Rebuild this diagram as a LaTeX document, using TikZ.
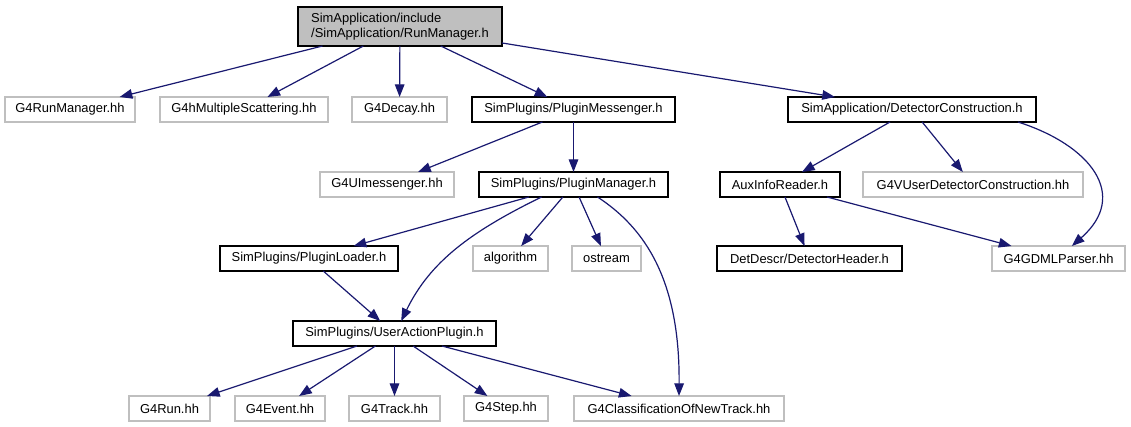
\documentclass[tikz,border=0pt]{standalone}
\usepackage{fontspec}
\setmainfont{Liberation Sans}
\usepackage{tikz}
\usetikzlibrary{arrows.meta,positioning}
\definecolor{extline}{RGB}{191,191,191}
\definecolor{rootbg}{RGB}{191,191,191}
\definecolor{edgeline}{RGB}{25,25,112}
\tikzset{
  extbox/.style={
    draw=extline,
    line width=0.8pt,
    fill=white,
    outer sep=0pt,
    minimum height=18.75pt,
    inner sep=2pt,
    font=\fontsize{9.7}{11.3}\selectfont
  },
  hdrbox/.style={
    extbox,
    draw=black,
    line width=0.85pt
  },
  rootbox/.style={
    hdrbox,
    fill=rootbg,
    align=left,
    minimum height=29.25pt
  },
  arrow/.style={-{Triangle[length=9.5pt,width=7.2pt]}, draw=edgeline, color=edgeline, line width=0.9pt}
}

\begin{document}
\begin{tikzpicture}[x=0.75pt,y=-0.75pt,node distance=18.75pt]
  \useasboundingbox (0,0) rectangle (1131,427);

  \node[rootbox, minimum width=153pt] (root) at (400,26.5) {SimApplication/include\\/SimApplication/RunManager.h};

  % first level
  \node[extbox, minimum width=97.5pt, anchor=west] (runmgr) at (5,109.5) {G4RunManager.hh};
  \node[extbox, minimum width=126pt, right=of runmgr] (multscat) {G4hMultipleScattering.hh};
  \node[extbox, minimum width=71.25pt, right=18pt of multscat] (decay) {G4Decay.hh};
  \node[hdrbox, minimum width=152.25pt, right=of decay] (pmsg) {SimPlugins/PluginMessenger.h};
  \node[hdrbox, minimum width=186pt, right=84.75pt of pmsg] (detcon) {SimApplication/DetectorConstruction.h};

  % second level
  \node[extbox, minimum width=100.5pt, anchor=west] (uimsg) at (320,184.5) {G4UImessenger.hh};
  \node[hdrbox, minimum width=141.75pt, right=of uimsg] (pmgr) {SimPlugins/PluginManager.h};
  \node[hdrbox, minimum width=90pt, right=39pt of pmgr] (auxinfo) {AuxInfoReader.h};
  \node[extbox, minimum width=165pt, right=17.25pt of auxinfo] (vuserdet) {G4VUserDetectorConstruction.hh};

  % third level
  \node[hdrbox, minimum width=133.5pt, anchor=west] (ploader) at (220,258.5) {SimPlugins/PluginLoader.h};
  \node[extbox, minimum width=56.25pt, right=56.25pt of ploader] (algo) {algorithm};
  \node[extbox, minimum width=51.75pt, right=18pt of algo] (ostr) {ostream};
  \node[hdrbox, minimum width=138.75pt, right=57pt of ostr] (dethdr) {DetDescr/DetectorHeader.h};
  \node[extbox, minimum width=99.75pt, right=67.5pt of dethdr] (gdml) {G4GDMLParser.hh};

  \node[hdrbox, minimum width=152.25pt] (uap) at (394.5,333.5) {SimPlugins/UserActionPlugin.h};

  % leaves
  \node[extbox, minimum width=60.75pt, anchor=west] (run) at (129,408.5) {G4Run.hh};
  \node[extbox, minimum width=67.5pt, right=of run] (event) {G4Event.hh};
  \node[extbox, minimum width=68.25pt, right=18pt of event] (track) {G4Track.hh};
  \node[extbox, minimum width=63pt, right=18pt of track] (g4step) {G4Step.hh};
  \node[extbox, minimum width=157.5pt, right=19.5pt of g4step] (clsf) {G4ClassificationOfNewTrack.hh};

  \draw[arrow] (root) -- (runmgr);
  \draw[arrow] (root) -- (multscat);
  \draw[arrow] (root) -- (decay);
  \draw[arrow] (root) -- (pmsg);
  \draw[arrow] (root) -- (detcon);

  \draw[arrow] (pmsg) -- (uimsg);
  \draw[arrow] (pmsg) -- (pmgr);
  \draw[arrow] (detcon) -- (auxinfo);
  \draw[arrow] (detcon) -- (vuserdet);
  \draw[arrow] ([xshift=-13.5pt]detcon.south east) .. controls (1090,145) and (1130,195) .. ([xshift=10pt]gdml.north);

  \draw[arrow] (pmgr) -- (ploader);
  \draw[arrow] ([xshift=-24pt]pmgr.south) .. controls (470,232) and (430,262) .. ([xshift=5pt]uap.north);
  \draw[arrow] (pmgr) -- (algo);
  \draw[arrow] (pmgr) -- (ostr);
  \draw[arrow] ([xshift=18pt]pmgr.south) .. controls (645,228) and (680,280) .. (clsf.north);
  \draw[arrow] (auxinfo) -- (dethdr);
  \draw[arrow] (auxinfo) -- (gdml);

  \draw[arrow] (ploader) -- (uap);
  \draw[arrow] (uap) -- (run);
  \draw[arrow] (uap) -- (event);
  \draw[arrow] (uap) -- (track);
  \draw[arrow] (uap) -- (g4step);
  \draw[arrow] (uap) -- (clsf);
\end{tikzpicture}
\end{document}
